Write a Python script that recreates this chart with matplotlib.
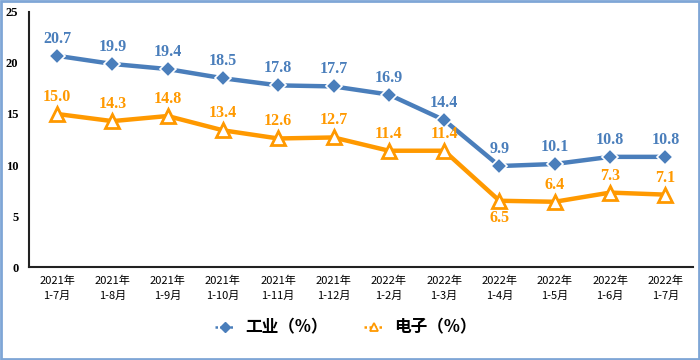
import matplotlib
matplotlib.use("Agg")
import matplotlib.pyplot as plt
from matplotlib.patches import Rectangle
from matplotlib.lines import Line2D

categories = ["2021年\n1-7月", "2021年\n1-8月", "2021年\n1-9月", "2021年\n1-10月",
              "2021年\n1-11月", "2021年\n1-12月", "2022年\n1-2月", "2022年\n1-3月",
              "2022年\n1-4月", "2022年\n1-5月", "2022年\n1-6月", "2022年\n1-7月"]
industry = [20.7, 19.9, 19.4, 18.5, 17.8, 17.7, 16.9, 14.4, 9.9, 10.1, 10.8, 10.8]
electronics = [15.0, 14.3, 14.8, 13.4, 12.6, 12.7, 11.4, 11.4, 6.5, 6.4, 7.3, 7.1]
yticks = [0, 5, 10, 15, 20, 25]
series_names = ['工业（%）', '电子（%）']

plt.rcParams['font.family'] = ['Noto Sans CJK SC', 'DejaVu Sans']

blue = '#4a7ebb'
orange = '#ff9900'

fig = plt.figure(figsize=(7, 3.6), dpi=100)
ax = fig.add_axes([0.042, 0.258, 0.948, 0.709])
x = list(range(len(categories)))

ax.plot(x, industry, color=blue, lw=3.2, marker='D', ms=8, mfc=blue, mec='white',
        mew=1.2, zorder=3)
ax.plot(x, electronics, color=orange, lw=3.2, marker='^', ms=10, mfc='white',
        mec=orange, mew=2, zorder=3)

serif = dict(family='Liberation Serif', weight='bold', size=11.5)
for i, v in enumerate(industry):
    ax.annotate(f"{v:.1f}", (i, v), xytext=(0, 6.5), textcoords='offset points',
                ha='center', va='bottom', color=blue, zorder=5, **serif)
for i, v in enumerate(electronics):
    if i == 8:
        ax.annotate(f"{v:.1f}", (i, v), xytext=(0, -7), textcoords='offset points',
                    ha='center', va='top', color=orange, zorder=5, **serif)
    else:
        ax.annotate(f"{v:.1f}", (i, v), xytext=(0, 6.5), textcoords='offset points',
                    ha='center', va='bottom', color=orange, zorder=5, **serif)

ax.set_xlim(-0.5, len(categories) - 0.5)
ax.set_ylim(0, 25)
ax.set_yticks(yticks)
ax.set_yticklabels([str(t) for t in yticks], fontfamily='Liberation Serif',
                   fontweight='bold', fontsize=9)
ax.set_xticks(x)
ax.set_xticklabels(categories, fontsize=8, linespacing=1.6)
ax.tick_params(axis='x', length=0, pad=6)
ax.tick_params(axis='y', length=0, pad=8)
for s in ['top', 'right']:
    ax.spines[s].set_visible(False)
ax.spines['left'].set_color('#222222')
ax.spines['bottom'].set_color('#222222')
ax.spines['left'].set_linewidth(1.5)
ax.spines['bottom'].set_linewidth(1.5)

handles = [
    Line2D([], [], color=blue, lw=1.8, ls=(0, (1, 1)), marker='D', ms=5,
           mfc=blue, mec=blue),
    Line2D([], [], color=orange, lw=1.8, ls=(0, (1, 1)), marker='^', ms=6,
           mfc='white', mec=orange, mew=1.3),
]
fig.legend(handles, series_names, loc='center', bbox_to_anchor=(0.494, 0.09), ncol=2,
           frameon=False, prop={'size': 12, 'weight': 'bold'}, handlelength=1.2,
           handletextpad=0.6, columnspacing=2.2)

fig.patches.append(Rectangle((0.002, 0.004), 0.996, 0.992, transform=fig.transFigure,
                             fill=False, edgecolor='#7fa6d6', lw=2))

fig.savefig('out.png', dpi=100)
